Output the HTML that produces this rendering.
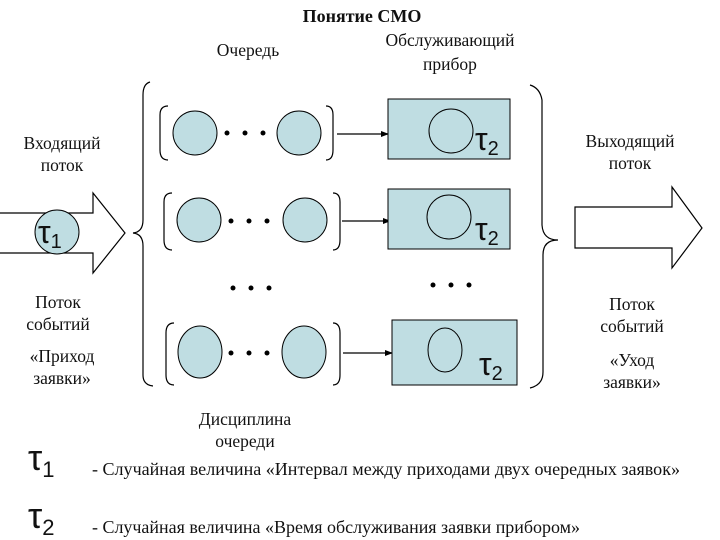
<!DOCTYPE html>
<html><head><meta charset="utf-8"><style>
body{margin:0;background:#fff}
svg{display:block}
text{font-family:"Liberation Serif",serif;fill:#111}
.t{font-family:"Liberation Sans",sans-serif}
</style></head><body>
<svg width="720" height="540" viewBox="0 0 720 540" xmlns="http://www.w3.org/2000/svg">
<defs><marker id="ah" markerWidth="8" markerHeight="8" refX="7" refY="4" orient="auto" markerUnits="userSpaceOnUse"><path d="M0,1 L8,4 L0,7 Z" fill="#000"/></marker></defs>
<g font-size="17.5" text-anchor="middle">
<text x="362" y="22" font-weight="bold" font-size="18">Понятие СМО</text>
<text x="248" y="56">Очередь</text>
<text x="450" y="46">Обслуживающий</text>
<text x="450" y="70">прибор</text>
<text x="62" y="149">Входящий</text>
<text x="62" y="171">поток</text>
<text x="630" y="147">Выходящий</text>
<text x="630" y="169">поток</text>
<text x="58" y="308">Поток</text>
<text x="58" y="330">событий</text>
<text x="62" y="362">«Приход</text>
<text x="62" y="384">заявки»</text>
<text x="632" y="310">Поток</text>
<text x="632" y="332">событий</text>
<text x="632" y="366">«Уход</text>
<text x="632" y="388">заявки»</text>
<text x="245" y="425">Дисциплина</text>
<text x="245" y="447">очереди</text>
</g>
<g fill="none" stroke="#000" stroke-width="1.2">
<path d="M0,213 H93 V193 L125,233 L93,273 V253 H0" fill="#fff"/>
<path d="M575,207 H672 V187 L702,228 L672,268 V248 H575 Z" fill="#fff"/>
<path d="M150,82 Q143,84 143,95 V220 Q143,232 133,233 Q143,234 143,246 V375 Q143,385 153,386"/>
<path d="M530,85 Q540,88 542,100 V225 Q543,240 558,240 Q543,240 543,255 V372 Q543,385 530,388"/>
<path d="M168,106 Q160,106 160,115 V150 Q160,160 168,160"/>
<path d="M326,106 Q333,106 333,115 V150 Q333,160 326,160"/>
<path d="M172,193 Q164,193 164,202 V240 Q164,250 172,250"/>
<path d="M333,193 Q340,193 340,202 V240 Q340,250 333,250"/>
<path d="M174,323 Q166,323 166,333 V375 Q166,385 174,385"/>
<path d="M333,323 Q340,323 340,333 V375 Q340,385 333,385"/>
<line x1="337" y1="134" x2="388" y2="134" marker-end="url(#ah)"/>
<line x1="342" y1="221" x2="390" y2="221" marker-end="url(#ah)"/>
<line x1="343" y1="353" x2="392" y2="353" marker-end="url(#ah)"/>
</g>
<g fill="#bfdde2" stroke="#000" stroke-width="1">
<rect x="388" y="99" width="122" height="60"/>
<rect x="388" y="189" width="122" height="60"/>
<rect x="392" y="320" width="125" height="65"/>
<circle cx="195" cy="133" r="22"/><circle cx="299" cy="133" r="22"/>
<circle cx="199" cy="220" r="22"/><circle cx="305" cy="220" r="22"/>
<ellipse cx="200" cy="352" rx="22" ry="26"/><ellipse cx="304" cy="352" rx="22" ry="26"/>
<circle cx="57" cy="232" r="22"/>
</g>
<g fill="none" stroke="#000" stroke-width="1">
<circle cx="451" cy="131" r="22"/>
<circle cx="449" cy="217" r="22"/>
<ellipse cx="445" cy="350" rx="17" ry="22"/>
</g>
<g fill="#000">
<circle cx="227" cy="133" r="2.5"/><circle cx="245" cy="133" r="2.5"/><circle cx="263" cy="133" r="2.5"/>
<circle cx="231" cy="221" r="2.5"/><circle cx="249" cy="221" r="2.5"/><circle cx="267" cy="221" r="2.5"/>
<circle cx="233" cy="288" r="2.5"/><circle cx="251" cy="288" r="2.5"/><circle cx="269" cy="288" r="2.5"/>
<circle cx="433" cy="285" r="2.5"/><circle cx="451" cy="285" r="2.5"/><circle cx="469" cy="285" r="2.5"/>
<circle cx="231" cy="353" r="2.5"/><circle cx="249" cy="353" r="2.5"/><circle cx="267" cy="353" r="2.5"/>
</g>
<g class="t">
<text class="t" x="475" y="150" font-size="32">τ<tspan font-size="20" dy="5">2</tspan></text>
<text class="t" x="475" y="240" font-size="32">τ<tspan font-size="20" dy="5">2</tspan></text>
<text class="t" x="479" y="375" font-size="32">τ<tspan font-size="20" dy="5">2</tspan></text>
<text class="t" x="38" y="243" font-size="32">τ<tspan font-size="20" dy="5">1</tspan></text>
<text class="t" x="28" y="470" font-size="36">τ<tspan font-size="22" dy="7">1</tspan></text>
<text class="t" x="28" y="528" font-size="36">τ<tspan font-size="22" dy="7">2</tspan></text>
</g>
<text x="92" y="475" font-size="17.5" textLength="588" lengthAdjust="spacingAndGlyphs">- Случайная величина «Интервал между приходами двух очередных заявок»</text>
<text x="92" y="533" font-size="17.5" textLength="488" lengthAdjust="spacingAndGlyphs">- Случайная величина «Время обслуживания заявки прибором»</text>
</svg>
</body></html>
